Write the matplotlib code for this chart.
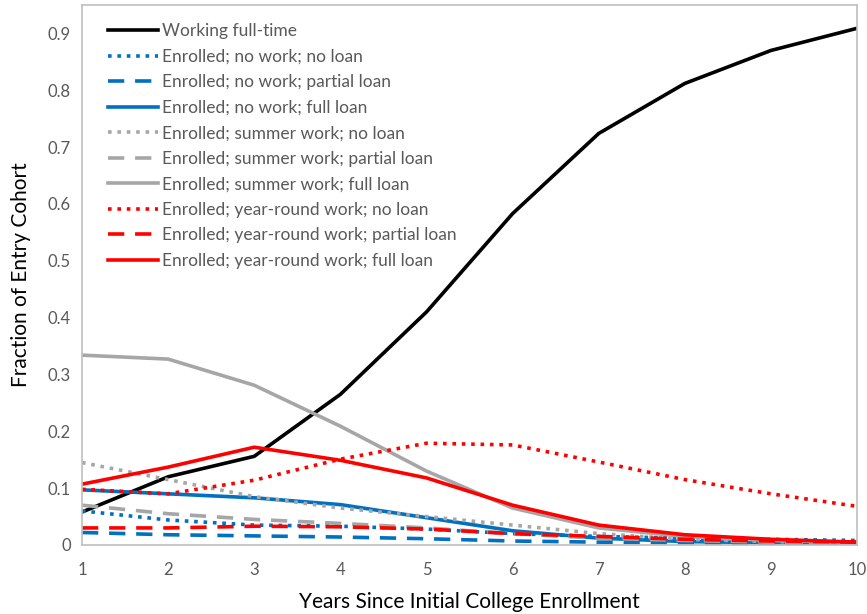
import matplotlib
matplotlib.use('Agg')
import matplotlib.pyplot as plt

years = [1, 2, 3, 4, 5, 6, 7, 8, 9, 10]

working_full_time = [0.058, 0.12, 0.156, 0.265, 0.41, 0.583, 0.724, 0.812, 0.87, 0.909]
nowork_noloan = [0.060, 0.044, 0.035, 0.033, 0.028, 0.020, 0.015, 0.012, 0.010, 0.008]
nowork_partial = [0.022, 0.018, 0.016, 0.014, 0.011, 0.007, 0.005, 0.004, 0.003, 0.002]
nowork_full = [0.097, 0.090, 0.083, 0.071, 0.048, 0.025, 0.012, 0.006, 0.004, 0.003]
summer_noloan = [0.145, 0.115, 0.085, 0.065, 0.050, 0.035, 0.020, 0.010, 0.006, 0.004]
summer_partial = [0.070, 0.055, 0.045, 0.038, 0.030, 0.020, 0.012, 0.008, 0.005, 0.003]
summer_full = [0.334, 0.327, 0.281, 0.209, 0.130, 0.065, 0.030, 0.015, 0.008, 0.005]
yearround_noloan = [0.098, 0.090, 0.114, 0.151, 0.179, 0.176, 0.146, 0.115, 0.090, 0.068]
yearround_partial = [0.030, 0.030, 0.033, 0.032, 0.028, 0.020, 0.015, 0.010, 0.007, 0.005]
yearround_full = [0.107, 0.137, 0.172, 0.149, 0.118, 0.070, 0.035, 0.018, 0.010, 0.005]

labels = [
    "Working full-time",
    "Enrolled; no work; no loan",
    "Enrolled; no work; partial loan",
    "Enrolled; no work; full loan",
    "Enrolled; summer work; no loan",
    "Enrolled; summer work; partial loan",
    "Enrolled; summer work; full loan",
    "Enrolled; year-round work; no loan",
    "Enrolled; year-round work; partial loan",
    "Enrolled; year-round work; full loan",
]
series = [working_full_time, nowork_noloan, nowork_partial, nowork_full,
          summer_noloan, summer_partial, summer_full,
          yearround_noloan, yearround_partial, yearround_full]

black = '#000000'
blue = '#0070C0'
gray = '#A6A6A6'
red = '#FF0000'
colors = [black, blue, blue, blue, gray, gray, gray, red, red, red]
dotted = (0, (1, 1.6))
dashed = (0, (4.5, 3))
styles = ['-', dotted, dashed, '-', dotted, dashed, '-', dotted, dashed, '-']

plt.rcParams['font.family'] = ['Lato', 'DejaVu Sans']

fig = plt.figure(figsize=(8.67, 6.14), dpi=100)
ax = fig.add_axes([0.0946, 0.1124, 0.894, 0.8795])

for ys, lab, c, ls in zip(series, labels, colors, styles):
    ax.plot(years, ys, color=c, linestyle=ls, linewidth=2.6, label=lab)

ax.set_xlim(1, 10)
ax.set_ylim(0, 0.95)
ax.set_xticks(years)
ax.set_yticks([0, 0.1, 0.2, 0.3, 0.4, 0.5, 0.6, 0.7, 0.8, 0.9])
ax.set_yticklabels(['0', '0.1', '0.2', '0.3', '0.4', '0.5', '0.6', '0.7', '0.8', '0.9'])
ax.tick_params(axis='both', length=0, labelsize=12, labelcolor='#595959', pad=8)
ax.tick_params(axis='x', pad=12)

for s in ax.spines.values():
    s.set_color('#BFBFBF')
    s.set_linewidth(1.2)

ax.set_xlabel("Years Since Initial College Enrollment", fontsize=15, color='#000000', labelpad=10)
ax.set_ylabel("Fraction of Entry Cohort", fontsize=15, color='#000000', labelpad=12)

leg = ax.legend(loc='upper left', frameon=False, fontsize=12.5, handlelength=2.9,
                handletextpad=0.2, labelspacing=0.545, borderaxespad=0.2,
                bbox_to_anchor=(0.02, 0.985))
for t in leg.get_texts():
    t.set_color('#595959')

fig.savefig("out.png", dpi=100)
